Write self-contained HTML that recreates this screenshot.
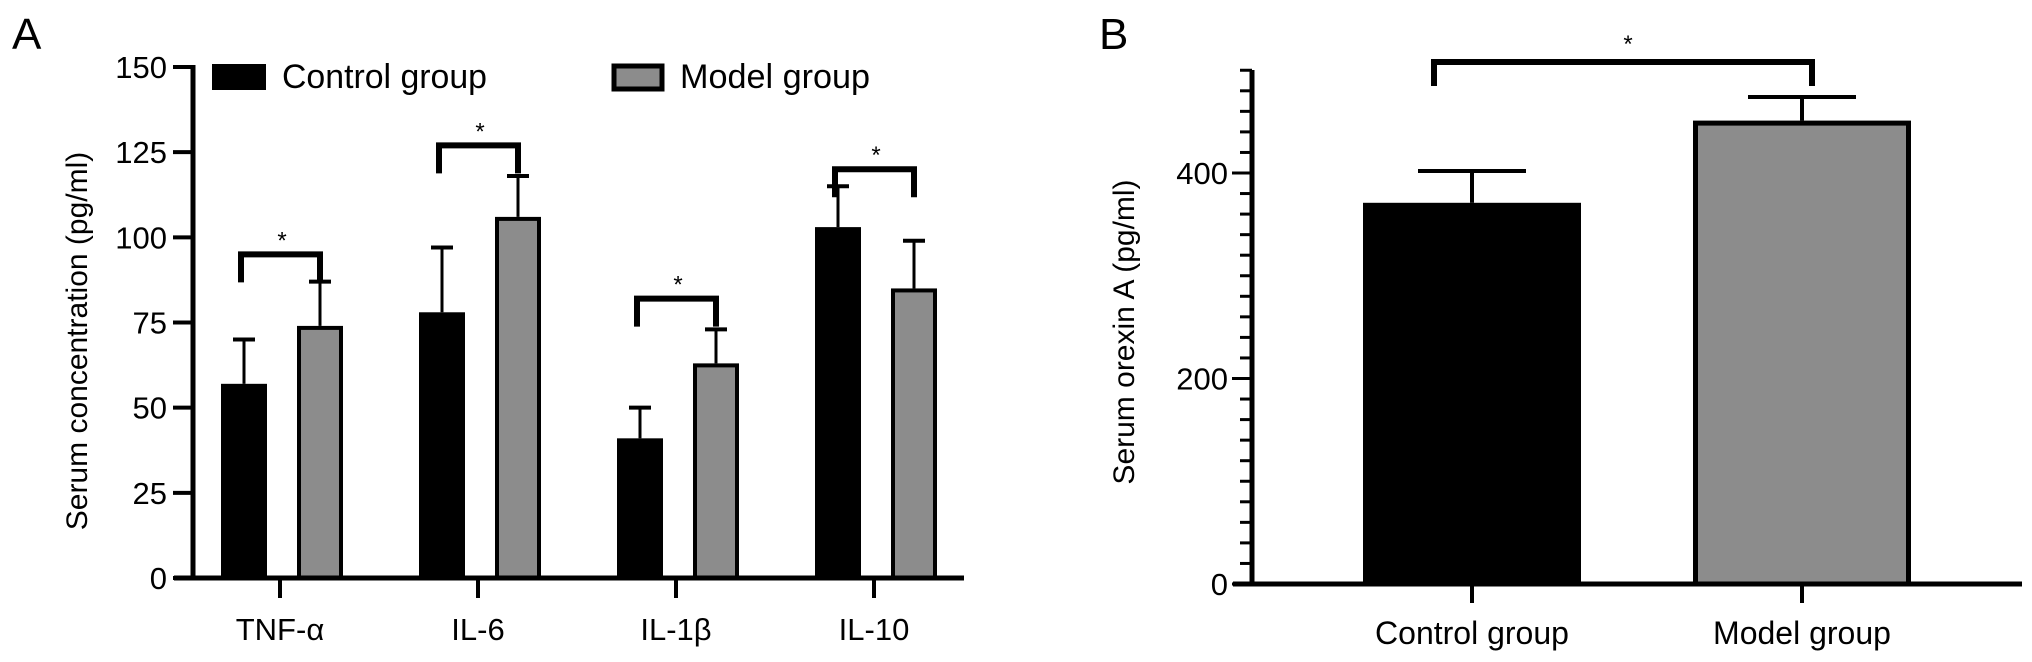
<!DOCTYPE html>
<html><head><meta charset="utf-8"><style>
html,body{margin:0;padding:0;background:#fff;overflow:hidden}
svg{display:block;font-family:"Liberation Sans",Arial,sans-serif}
</style></head><body>
<svg id="chart" width="2032" height="662" viewBox="0 0 2032 662" xmlns="http://www.w3.org/2000/svg">
<g id="panelA"></g>
<g id="panelB"></g>
</svg>
<script>
// Panel A data
const catsA = ["TNF-α","IL-6","IL-1β","IL-10"];
const controlA = [57, 78, 41, 103];
const controlErrA = [13, 19, 9, 12];
const modelA = [74, 106, 63, 85];
const modelErrA = [13, 12, 10, 14];
const sigA = [95, 127, 82, 120];
const ticksA = [0,25,50,75,100,125,150];
// Panel B data
const catsB = ["Control group","Model group"];
const valuesB = [371, 451];
const errB = [31, 23];
const sigB = 508;
const ticksB = [0,200,400];

const NS="http://www.w3.org/2000/svg";
function mk(parent,tag,attrs,text){const e=document.createElementNS(NS,tag);for(const k in attrs)e.setAttribute(k,attrs[k]);if(text!==undefined)e.textContent=text;parent.appendChild(e);return e;}

// ---------- Panel A ----------
const A=document.getElementById('panelA');
const yA=v=>578-v*(511/150);
const xA=i=>280+i*198;
let t=mk(A,'text',{x:12,y:49,'font-size':44},'A');


t=mk(A,'text',{transform:'translate(87,341) rotate(-90)','text-anchor':'middle','font-size':30},'Serum concentration (pg/ml)');


catsA.forEach((c,i)=>{
  const cx=xA(i)-36, mx=xA(i)+40, w=46;
  let e=mk(A,'line',{x1:cx,x2:cx,y1:yA(controlA[i]),y2:yA(controlA[i]+controlErrA[i]),stroke:'#000','stroke-width':3});
  
  
  mk(A,'line',{x1:cx-11,x2:cx+11,y1:yA(controlA[i]+controlErrA[i]),y2:yA(controlA[i]+controlErrA[i]),stroke:'#000','stroke-width':4});
  e=mk(A,'rect',{x:cx-w/2,y:yA(controlA[i]),width:w,height:yA(0)-yA(controlA[i]),fill:'#000'});
  
  
  e=mk(A,'line',{x1:mx,x2:mx,y1:yA(modelA[i]),y2:yA(modelA[i]+modelErrA[i]),stroke:'#000','stroke-width':3});
  
  
  mk(A,'line',{x1:mx-11,x2:mx+11,y1:yA(modelA[i]+modelErrA[i]),y2:yA(modelA[i]+modelErrA[i]),stroke:'#000','stroke-width':4});
  e=mk(A,'rect',{x:mx-w/2+2,y:yA(modelA[i])+2,width:w-4,height:yA(0)-yA(modelA[i])-2,fill:'#8c8c8c',stroke:'#000','stroke-width':4});
  
  
  const by=yA(sigA[i]);
  e=mk(A,'path',{d:`M${cx-3} ${by+28} V${by} H${mx} V${by+28}`,fill:'none',stroke:'#000','stroke-width':6});
  
  
  e=mk(A,'text',{x:(cx+mx)/2,y:by-6,'text-anchor':'middle','font-size':24},'*');
  
  
  mk(A,'line',{x1:xA(i),x2:xA(i),y1:578,y2:598,stroke:'#000','stroke-width':4});
  e=mk(A,'text',{x:xA(i),y:640,'text-anchor':'middle','font-size':31},c);
  
  
});
ticksA.forEach(v=>{
  mk(A,'line',{x1:173,x2:193,y1:yA(v),y2:yA(v),stroke:'#000','stroke-width':4});
  const e=mk(A,'text',{x:167,y:yA(v)+11,'text-anchor':'end','font-size':31},String(v));
  
  
});
let ax=mk(A,'line',{x1:193,x2:193,y1:65,y2:580,stroke:'#000','stroke-width':5});


ax=mk(A,'line',{x1:174,x2:964,y1:578,y2:578,stroke:'#000','stroke-width':5});


let lg=mk(A,'g',{});


mk(lg,'rect',{x:212,y:64,width:54,height:26,fill:'#000'});
mk(lg,'text',{x:282,y:88,'font-size':34,textLength:205,lengthAdjust:'spacingAndGlyphs'},'Control group');
mk(lg,'rect',{x:614,y:66,width:48,height:23,fill:'#8c8c8c',stroke:'#000','stroke-width':5});
mk(lg,'text',{x:680,y:88,'font-size':34,textLength:190,lengthAdjust:'spacingAndGlyphs'},'Model group');

// ---------- Panel B ----------
const B=document.getElementById('panelB');
const yB=v=>584-v*1.0275;
const xB=i=>1472+i*330;
t=mk(B,'text',{x:1099,y:49,'font-size':44},'B');


t=mk(B,'text',{transform:'translate(1134,332) rotate(-90)','text-anchor':'middle','font-size':30},'Serum orexin A (pg/ml)');


catsB.forEach((c,i)=>{
  const x=xB(i), w=218, v=valuesB[i];
  let e=mk(B,'line',{x1:x,x2:x,y1:yB(v),y2:yB(v+errB[i]),stroke:'#000','stroke-width':4});
  
  
  mk(B,'line',{x1:x-54,x2:x+54,y1:yB(v+errB[i]),y2:yB(v+errB[i]),stroke:'#000','stroke-width':4});
  if(i===0){e=mk(B,'rect',{x:x-w/2,y:yB(v),width:w,height:yB(0)-yB(v),fill:'#000'});}
  else{e=mk(B,'rect',{x:x-w/2+2.5,y:yB(v)+2.5,width:w-5,height:yB(0)-yB(v)-2.5,fill:'#8c8c8c',stroke:'#000','stroke-width':5});}
  
  
  mk(B,'line',{x1:x,x2:x,y1:584,y2:603,stroke:'#000','stroke-width':4});
  e=mk(B,'text',{x:x,y:644,'text-anchor':'middle','font-size':32},c);
  
  
});
let by=yB(sigB);
let br=mk(B,'path',{d:`M${xB(0)-38} ${by+24} V${by} H${xB(1)+10} V${by+24}`,fill:'none',stroke:'#000','stroke-width':6});


br=mk(B,'text',{x:1628,y:52,'text-anchor':'middle','font-size':24},'*');


for(let v=0;v<=500;v+=20){
  const major=ticksB.includes(v);
  mk(B,'line',{x1:major?1232:1240,x2:1252,y1:yB(v),y2:yB(v),stroke:'#000','stroke-width':3});
}
ticksB.forEach(v=>{
  const e=mk(B,'text',{x:1228,y:yB(v)+11,'text-anchor':'end','font-size':31},String(v));
  
  
});
ax=mk(B,'line',{x1:1252,x2:1252,y1:70,y2:586,stroke:'#000','stroke-width':5});


ax=mk(B,'line',{x1:1233,x2:2022,y1:584,y2:584,stroke:'#000','stroke-width':5});


</script>
</body></html>
